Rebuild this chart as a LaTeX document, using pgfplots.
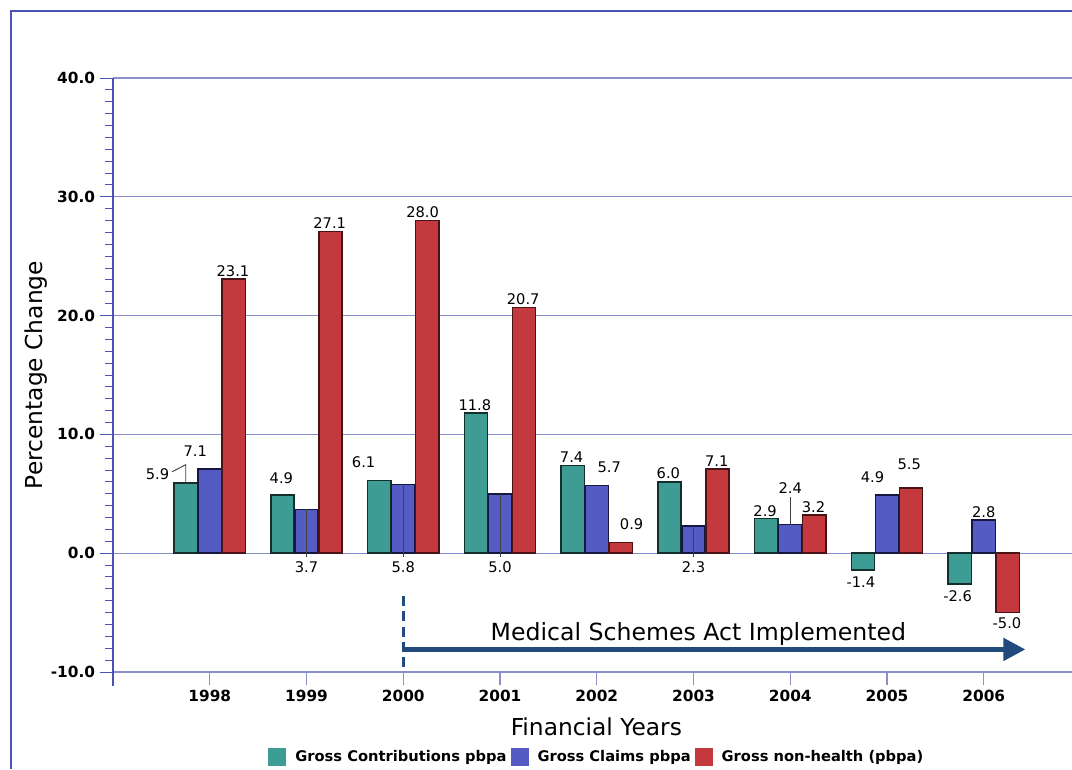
\documentclass[border=0pt]{standalone}
\usepackage{fontspec}
\setmainfont{DejaVu Sans}
\usepackage{pgfplots}
\pgfplotsset{compat=1.18}
\usetikzlibrary{arrows.meta}
\definecolor{cTeal}{HTML}{3D9C94}
\definecolor{cBlue}{HTML}{545CC4}
\definecolor{cRed}{HTML}{C4393D}
\definecolor{eTeal}{HTML}{142E2B}
\definecolor{eBlue}{HTML}{15173F}
\definecolor{eRed}{HTML}{4A1416}
\definecolor{gridc}{HTML}{8A8ECC}
\definecolor{axisc}{HTML}{4B52B6}
\definecolor{arrowc}{HTML}{224A7C}
\definecolor{leadc}{HTML}{404040}
\begin{document}
\begin{tikzpicture}
\useasboundingbox (0pt,0pt) rectangle (804pt,576.75pt);
\draw[axisc, line width=0.9pt] (8.25pt,0pt) -- (8.25pt,568.5pt) -- (804pt,568.5pt);
\begin{axis}[
  at={(84.75pt,72.75pt)}, anchor=south west,
  width=719.25pt, height=445.5pt, scale only axis,
  xmin=1997, xmax=2006.912, ymin=-10, ymax=40,
  clip=false,
  axis x line*=bottom, axis y line*=left,
  axis line style={-},
  x axis line style={gridc, line width=1.2pt},
  y axis line style={axisc, line width=0.9pt},
  ytick={-10,0,10,20,30,40},
  yticklabels={-10.0,0.0,10.0,20.0,30.0,40.0},
  minor y tick num=9,
  xtick={1998,1999,2000,2001,2002,2003,2004,2005,2006},
  xticklabels={1998,1999,2000,2001,2002,2003,2004,2005,2006},
  tick align=outside,
  major tick length=10pt, minor tick length=6pt,
  every tick/.style={axisc, line width=0.75pt},
  x tick style={gridc, line width=0.9pt},
  ymajorgrids, major grid style={gridc, line width=0.9pt},
  tick label style={font=\bfseries\fontsize{11.5}{13}\selectfont},
  xlabel={Financial Years},
  ylabel={Percentage Change},
  xlabel style={at={(axis description cs:0.504,-0.0926)}, anchor=center, font=\fontsize{17.5}{20}\selectfont},
  ylabel style={at={(axis description cs:-0.0803,0.5)}, anchor=center, font=\fontsize{17.5}{20}\selectfont},
  ybar=0.5pt, bar width=17.5pt,
  legend style={at={(axis description cs:0.5035,-0.143)}, anchor=center, draw=none, fill=none,
    legend columns=3, font=\bfseries\fontsize{11}{13}\selectfont,
    nodes={inner sep=0pt},
    /tikz/every odd column/.append style={column sep=6.75pt},
    /tikz/every even column/.append style={column sep=3pt}},
  legend image code/.code={\fill[#1, draw=none] (0pt,-6.75pt) rectangle (13.5pt,6.75pt);},
]
\addplot[fill=cTeal, draw=eTeal, line width=1.1pt] coordinates {
(1998,5.9) (1999,4.9) (2000,6.1) (2001,11.8) (2002,7.4) (2003,6.0) (2004,2.9) (2005,-1.4) (2006,-2.6)};
\addlegendentry{Gross Contributions pbpa}
\addplot[fill=cBlue, draw=eBlue, line width=1.1pt] coordinates {
(1998,7.1) (1999,3.7) (2000,5.8) (2001,5.0) (2002,5.7) (2003,2.3) (2004,2.4) (2005,4.9) (2006,2.8)};
\addlegendentry{Gross Claims pbpa}
\addplot[fill=cRed, draw=eRed, line width=1.1pt] coordinates {
(1998,23.1) (1999,27.1) (2000,28.0) (2001,20.7) (2002,0.9) (2003,7.1) (2004,3.2) (2005,5.5) (2006,-5.0)};
\addlegendentry{Gross non-health (pbpa)}

% leader lines
\draw[leadc, line width=0.7pt] (axis cs:1997.61,6.85) -- (axis cs:1997.752,7.45) -- (axis cs:1997.752,5.9);
\draw[leadc, line width=0.7pt] (axis cs:1999,3.7) -- (axis cs:1999,-0.35);
\draw[leadc, line width=0.7pt] (axis cs:2000,5.8) -- (axis cs:2000,-0.35);
\draw[leadc, line width=0.7pt] (axis cs:2001,5.0) -- (axis cs:2001,-0.35);
\draw[leadc, line width=0.7pt] (axis cs:2003,2.3) -- (axis cs:2003,-0.35);
\draw[leadc, line width=0.7pt] (axis cs:2004,4.71) -- (axis cs:2004,2.4);
% y axis extension
\draw[axisc, line width=0.9pt] (axis cs:1997,-10) -- (axis cs:1997,-11.18);

% data labels
\begin{scope}[every node/.style={font=\fontsize{11}{13}\selectfont, inner sep=0pt}]
\node at (axis cs:1997.46,6.65) {5.9};
\node at (axis cs:1997.85,8.59) {7.1};
\node at (axis cs:1998.24,23.75) {23.1};
\node at (axis cs:1998.74,6.31) {4.9};
\node at (axis cs:1999.0,-1.2) {3.7};
\node at (axis cs:1999.24,27.8) {27.1};
\node at (axis cs:1999.59,7.66) {6.1};
\node at (axis cs:2000.0,-1.2) {5.8};
\node at (axis cs:2000.2,28.7) {28.0};
\node at (axis cs:2000.74,12.46) {11.8};
\node at (axis cs:2001.0,-1.2) {5.0};
\node at (axis cs:2001.24,21.35) {20.7};
\node at (axis cs:2001.74,8.08) {7.4};
\node at (axis cs:2002.13,7.24) {5.7};
\node at (axis cs:2002.36,2.44) {0.9};
\node at (axis cs:2002.74,6.7) {6.0};
\node at (axis cs:2003.0,-1.2) {2.3};
\node at (axis cs:2003.24,7.74) {7.1};
\node at (axis cs:2003.74,3.55) {2.9};
\node at (axis cs:2004.0,5.47) {2.4};
\node at (axis cs:2004.24,3.89) {3.2};
\node at (axis cs:2004.73,-2.44) {-1.4};
\node at (axis cs:2004.85,6.4) {4.9};
\node at (axis cs:2005.23,7.49) {5.5};
\node at (axis cs:2005.73,-3.62) {-2.6};
\node at (axis cs:2006.0,3.45) {2.8};
\node at (axis cs:2006.24,-5.89) {-5.0};
\end{scope}

% annotation
\draw[arrowc, line width=2.5pt, dash pattern=on 7.5pt off 4pt] (axis cs:2000,-3.6) -- (axis cs:2000,-10);
\draw[arrowc, line width=3.75pt, -{Triangle[length=16.5pt,width=16.5pt]}] (axis cs:2000,-8.1) -- (axis cs:2006.43,-8.1);
\node[font=\fontsize{17.7}{20}\selectfont] at (axis cs:2003.05,-6.8) {Medical Schemes Act Implemented};
\end{axis}
\end{tikzpicture}
\end{document}
